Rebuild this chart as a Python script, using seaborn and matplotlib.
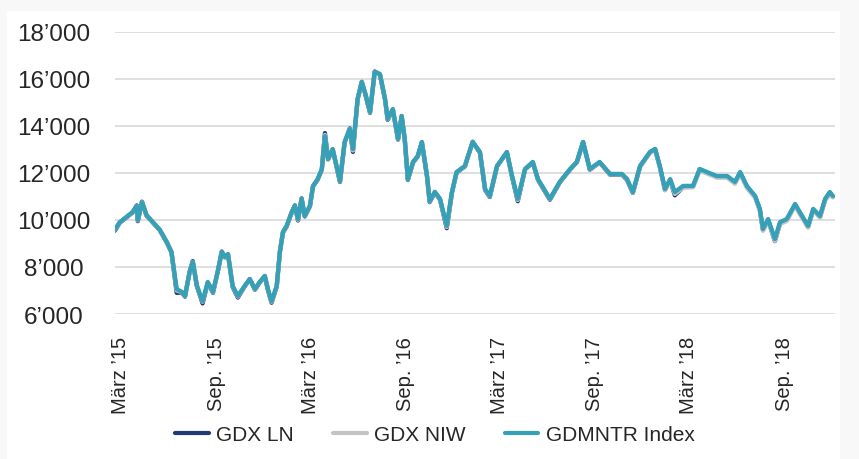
import numpy as np
import seaborn as sns
import pandas as pd
import matplotlib.pyplot as plt
from matplotlib.lines import Line2D
from matplotlib.patches import Rectangle


dates = [
    "2015-02-18", "2015-02-27", "2015-03-24", "2015-04-01", "2015-04-03", "2015-04-11", "2015-04-20",
    "2015-05-15", "2015-05-29", "2015-06-07", "2015-06-17", "2015-06-27", "2015-07-03", "2015-07-12",
    "2015-07-18", "2015-07-26", "2015-08-06", "2015-08-16", "2015-08-26", "2015-09-04", "2015-09-12",
    "2015-09-18", "2015-09-24", "2015-10-03", "2015-10-13", "2015-10-26", "2015-11-05", "2015-11-15",
    "2015-11-24", "2015-12-04", "2015-12-10", "2015-12-17", "2015-12-27", "2016-01-02", "2016-01-08",
    "2016-01-15", "2016-01-25", "2016-01-31", "2016-02-06", "2016-02-13", "2016-02-19", "2016-02-29",
    "2016-03-06", "2016-03-15", "2016-03-23", "2016-03-29", "2016-04-04", "2016-04-13", "2016-04-27",
    "2016-05-06", "2016-05-16", "2016-05-22", "2016-05-31", "2016-06-08", "2016-06-14", "2016-06-24",
    "2016-07-03", "2016-07-13", "2016-07-23", "2016-07-28", "2016-08-07", "2016-08-17", "2016-08-24",
    "2016-08-30", "2016-09-05", "2016-09-15", "2016-09-24", "2016-10-02", "2016-10-12", "2016-10-17",
    "2016-10-27", "2016-11-06", "2016-11-19", "2016-11-29", "2016-12-08", "2016-12-24", "2017-01-08",
    "2017-01-22", "2017-02-01", "2017-02-10", "2017-02-24", "2017-03-15", "2017-03-25", "2017-04-05",
    "2017-04-19", "2017-05-04", "2017-05-14", "2017-06-06", "2017-06-25", "2017-07-15", "2017-07-28",
    "2017-08-09", "2017-08-22", "2017-09-10", "2017-09-30", "2017-10-23", "2017-11-02", "2017-11-13",
    "2017-11-27", "2017-12-16", "2017-12-26", "2018-01-04", "2018-01-14", "2018-01-24", "2018-02-02",
    "2018-02-18", "2018-03-09", "2018-03-22", "2018-04-05", "2018-04-24", "2018-05-14", "2018-05-29",
    "2018-06-08", "2018-06-21", "2018-07-07", "2018-07-16", "2018-07-22", "2018-08-01", "2018-08-14",
    "2018-08-24", "2018-09-06", "2018-09-22", "2018-10-01", "2018-10-17", "2018-10-27", "2018-11-09",
    "2018-11-19", "2018-11-28", "2018-12-04",
]

gdmntr = [
    9600, 9900, 10340, 10600, 10000, 10750, 10200,
    9600, 9060, 8640, 7060, 6940, 6770, 7790,
    8210, 7200, 6550, 7360, 6940, 7790, 8640,
    8430, 8550, 7190, 6770, 7190, 7490, 7060,
    7360, 7620, 7060, 6550, 7190, 8640, 9490,
    9750, 10340, 10600, 10040, 10900, 10170, 10600,
    11450, 11740, 12170, 13570, 12600, 13020, 11660,
    13320, 13870, 13020, 15150, 15870, 15450, 14600,
    16300, 16210, 15150, 14300, 14720, 13450, 14430,
    13450, 11740, 12470, 12720, 13320, 11870, 10800,
    11200, 10900, 9750, 11190, 12040, 12300, 13320,
    12890, 11320, 11020, 12300, 12890, 11870, 10900,
    12170, 12470, 11740, 10900, 11620, 12170, 12470,
    13320, 12170, 12470, 11960, 11960, 11740, 11190,
    12300, 12890, 13020, 12300, 11320, 11740, 11190,
    11450, 11450, 12170, 12040, 11870, 11870, 11620,
    12040, 11450, 11020, 10470, 9620, 10040, 9190,
    9910, 10040, 10680, 10340, 9750, 10470, 10170,
    10900, 11190, 11020,
]

gdx_ln = [
    9550, 9880, 10320, 10620, 9950, 10780, 10180,
    9580, 9040, 8620, 6900, 6920, 6740, 7800,
    8250, 7180, 6450, 7340, 6900, 7780, 8660,
    8410, 8530, 7150, 6700, 7170, 7480, 7030,
    7340, 7610, 7020, 6480, 7170, 8620, 9470,
    9720, 10330, 10620, 9980, 10920, 10150, 10580,
    11430, 11720, 12150, 13700, 12580, 13000, 11620,
    13300, 13900, 12900, 15130, 15880, 15430, 14560,
    16320, 16200, 15120, 14260, 14700, 13420, 14420,
    13420, 11700, 12450, 12700, 13300, 11840, 10760,
    11170, 10870, 9650, 11160, 12020, 12280, 13330,
    12870, 11280, 10980, 12280, 12880, 11840, 10800,
    12150, 12450, 11710, 10860, 11600, 12150, 12460,
    13320, 12140, 12450, 11930, 11930, 11700, 11150,
    12280, 12880, 13010, 12270, 11280, 11710, 11050,
    11400, 11420, 12150, 12010, 11840, 11840, 11590,
    12010, 11410, 10980, 10430, 9580, 10000, 9100,
    9870, 10010, 10650, 10300, 9700, 10440, 10130,
    10870, 11160, 10990,
]

gdx_niw = [
    9580, 9890, 10330, 10600, 9980, 10760, 10190,
    9590, 9050, 8630, 7000, 6930, 6760, 7790,
    8220, 7190, 6520, 7350, 6920, 7780, 8650,
    8420, 8540, 7170, 6740, 7180, 7480, 7040,
    7350, 7610, 7040, 6520, 7180, 8630, 9480,
    9740, 10330, 10600, 10010, 10900, 10160, 10590,
    11440, 11730, 12160, 13620, 12590, 13010, 11640,
    13310, 13880, 12960, 15140, 15870, 15440, 14580,
    16300, 16200, 15140, 14280, 14710, 13430, 14420,
    13430, 11720, 12460, 12710, 13310, 11850, 10780,
    11180, 10880, 9700, 11170, 12030, 12290, 13320,
    12880, 11300, 11000, 12290, 12880, 11850, 10850,
    12160, 12460, 11720, 10880, 11610, 12160, 12460,
    13310, 12150, 12450, 11940, 11940, 11710, 11160,
    12260, 12850, 12980, 12250, 11260, 11680, 11110,
    11380, 11390, 12100, 11980, 11800, 11800, 11540,
    11970, 11370, 10940, 10390, 9540, 9960, 9110,
    9830, 9960, 10600, 10260, 9680, 10400, 10100,
    10830, 11120, 10960,
]

series_names = ["GDX LN", "GDX NIW", "GDMNTR Index"]
colors = ["#233876", "#c4c4c4", "#36a0b6"]

tick_dates = ["2015-03-01", "2015-09-01", "2016-03-01", "2016-09-01",
              "2017-03-01", "2017-09-01", "2018-03-01", "2018-09-01"]
tick_labels = ["März ’15", "Sep. ’15", "März ’16", "Sep. ’16",
               "März ’17", "Sep. ’17", "März ’18", "Sep. ’18"]
y_ticks = [6000, 8000, 10000, 12000, 14000, 16000, 18000]


df = pd.DataFrame({
    "Datum": pd.to_datetime(dates * 3),
    "Wert": gdx_ln + gdx_niw + gdmntr,
    "Serie": np.repeat(series_names, len(dates)),
})

sns.set_style("white")
plt.rcParams["font.family"] = ["Liberation Sans", "DejaVu Sans"]

fig = plt.figure(figsize=(8.59, 4.60), dpi=100)
fig.patch.set_facecolor("#f8f8f8")
fig.add_artist(Rectangle((7 / 859, 0), 833 / 859, 1 - 12 / 460,
                         transform=fig.transFigure, facecolor="white", edgecolor="none", zorder=-1))
ax = fig.add_axes([115 / 859, 1 - 315 / 460, 720 / 859, 282 / 460])
ax.set_facecolor("none")

sns.lineplot(data=df, x="Datum", y="Wert", hue="Serie", hue_order=series_names,
             palette=colors, linewidth=3.1, legend=False, ax=ax)

ax.set_xlim(pd.Timestamp("2015-02-18"), pd.Timestamp("2018-12-08"))
ax.set_ylim(6000, 18000)
ax.set_yticks(y_ticks)
ax.set_yticklabels([f"{v:,}".replace(",", "’") for v in y_ticks], fontsize=17.5, ha="center")
ax.tick_params(axis="y", length=0, pad=44)
ax.set_xticks(pd.to_datetime(tick_dates))
ax.set_xticklabels(tick_labels, rotation=90, fontsize=14.5, ha="center", va="top")
ax.tick_params(axis="x", length=0, pad=16)
ax.grid(axis="y", color="#d9d9d9", linewidth=1.2)
ax.grid(axis="x", visible=False)
ax.set_axisbelow(True)
for s in ax.spines.values():
    s.set_visible(False)
ax.set_xlabel("")
ax.set_ylabel("")

handles = [Line2D([0], [0], color=c, linewidth=3) for c in colors]
fig.legend(handles, series_names, loc="center", bbox_to_anchor=(435 / 859, 1 - 436 / 460),
           ncol=3, frameon=False, fontsize=15, handlelength=1.6, handletextpad=0.35,
           columnspacing=1.9)

fig.savefig("out.png", dpi=100, facecolor=fig.get_facecolor())
